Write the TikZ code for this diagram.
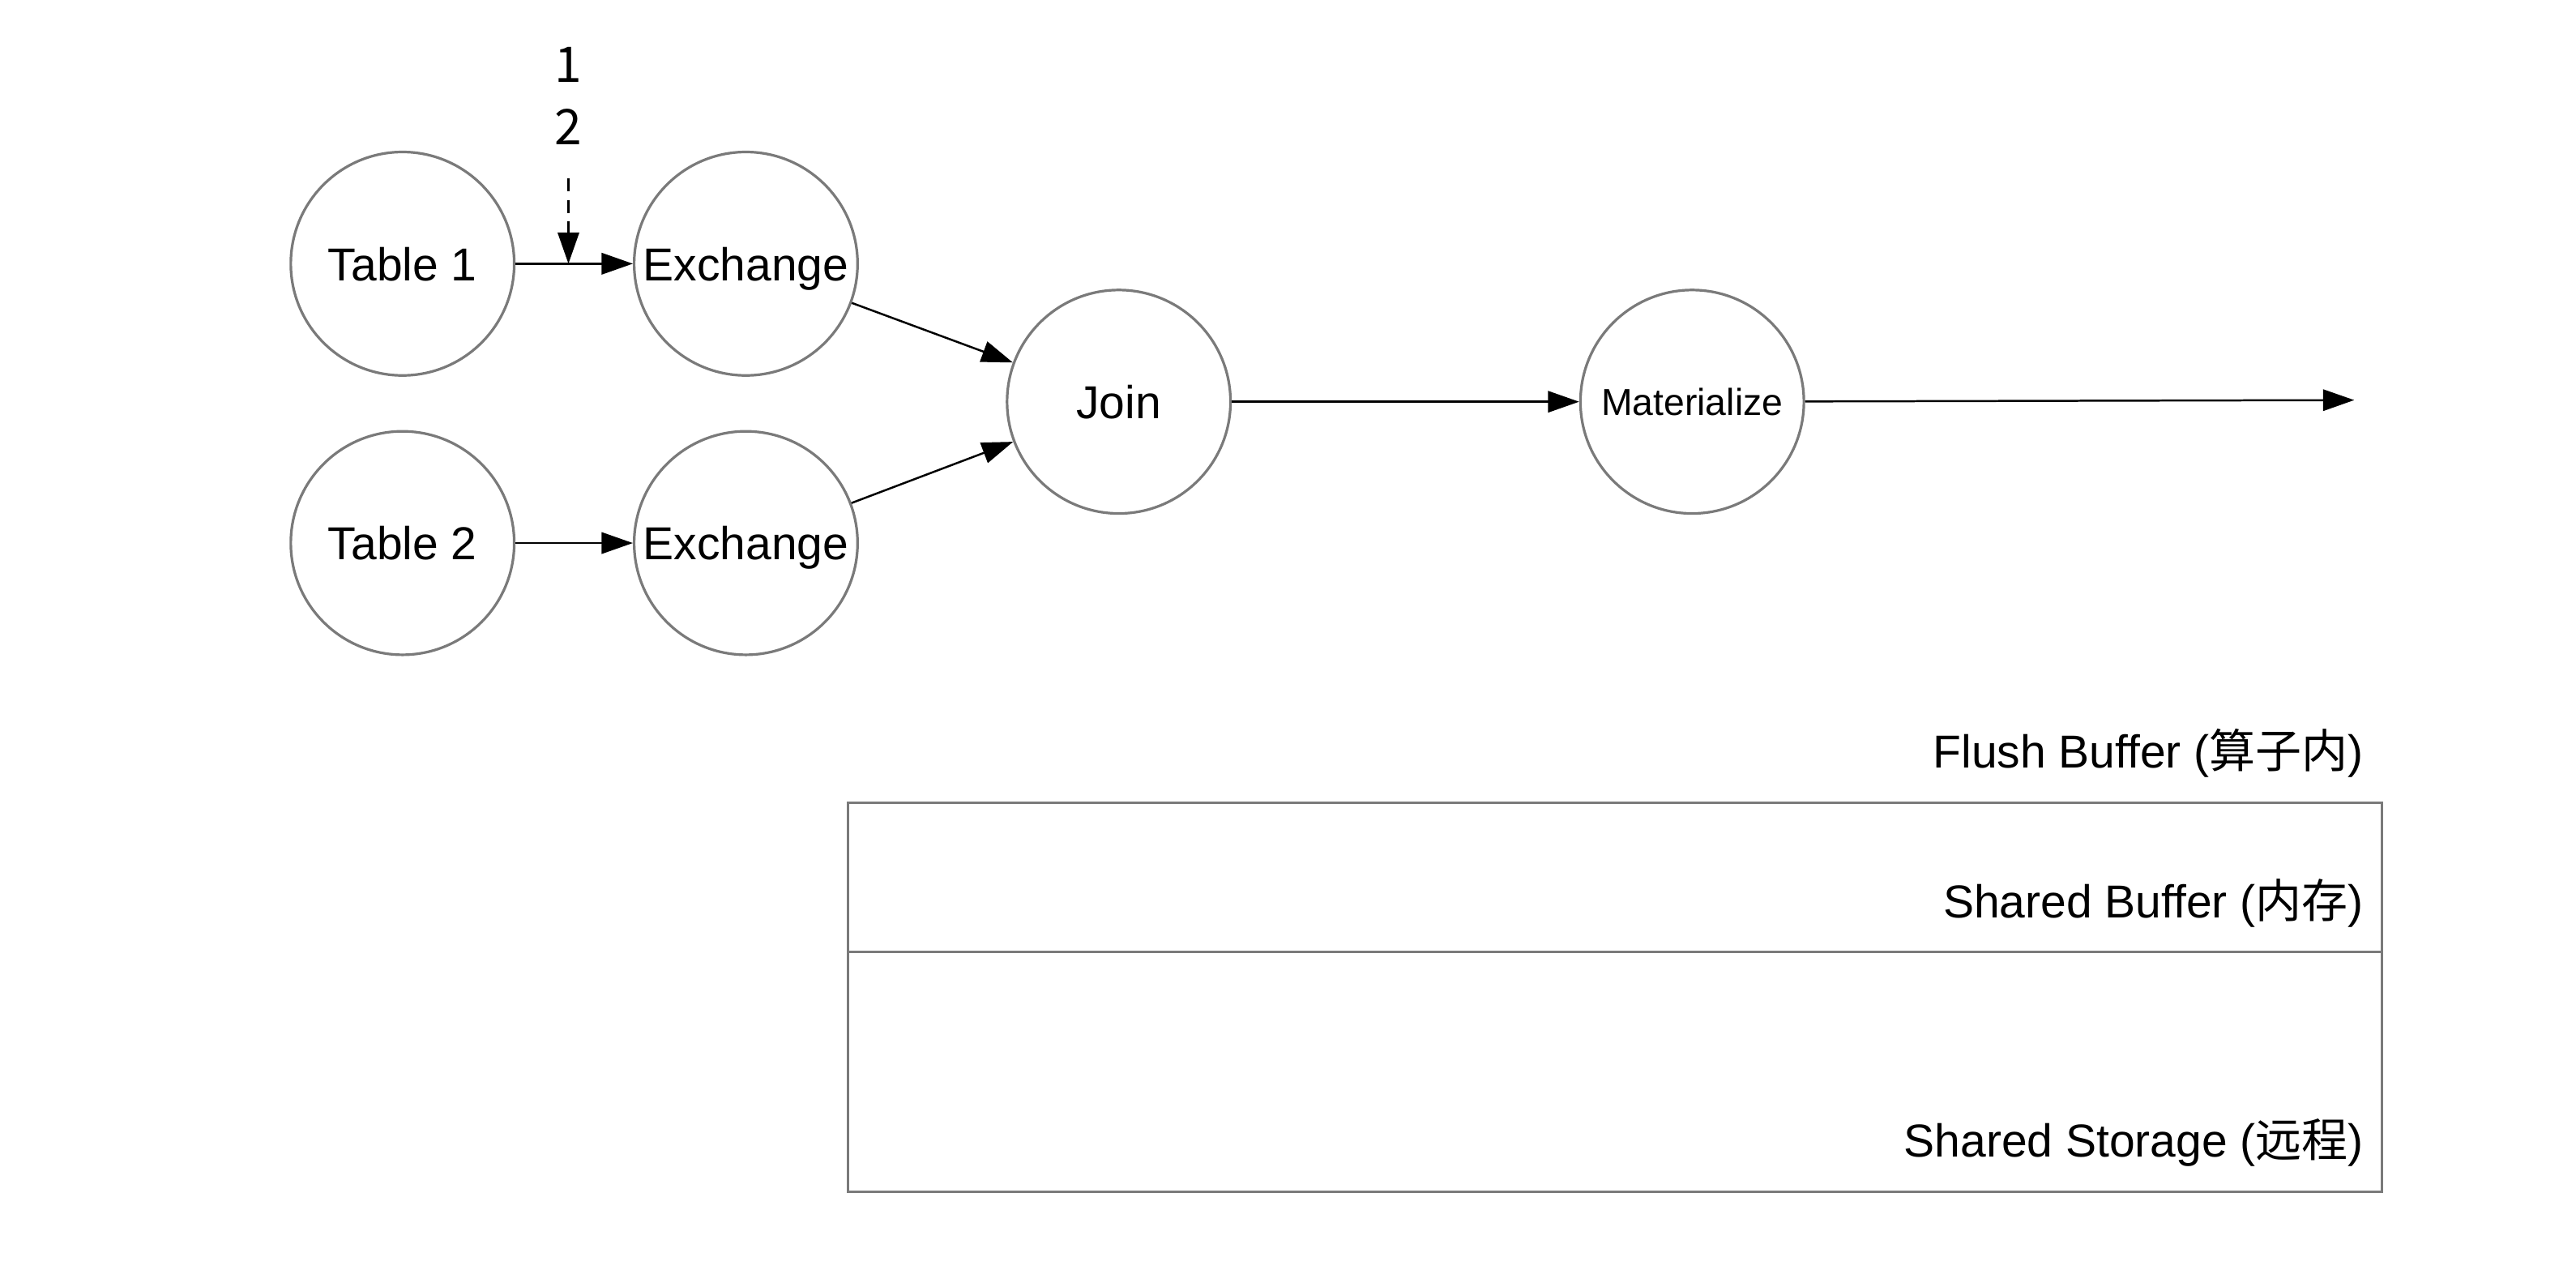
\documentclass[tikz,border=0pt]{standalone}
\usepackage{fontspec}
\setmainfont{Liberation Sans}
\newfontfamily\cjk{Noto Sans CJK SC}
\usepackage{tikz}
\usetikzlibrary{arrows.meta}

\definecolor{rim}{HTML}{7A7A7A}
\tikzset{
	op/.style={circle, draw=rim, line width=0.9pt, minimum size=2.72cm, inner sep=0pt, text depth=0pt, font=\fontsize{16}{19}\selectfont},
	arr/.style={line width=0.7pt, -{Triangle[length=0.38cm,width=0.26cm]}},
	lbl/.style={anchor=east, inner sep=0pt, font=\fontsize{16}{19}\selectfont}
}

\begin{document}
\begin{tikzpicture}
			\useasboundingbox (0,0) rectangle (31.36,15.45);

			\node[op] (t1) at (4.9,12.24) {Table 1};
			\node[op] (ex1) at (9.08,12.24) {Exchange};
			\node[op] (t2) at (4.9,8.84) {Table 2};
			\node[op] (ex2) at (9.08,8.84) {Exchange};
			\node[op] (join) at (13.62,10.56) {Join};
			\node[op, font=\fontsize{13}{15}\selectfont] (mat) at (20.6,10.56) {Materialize};
			\coordinate (out) at (28.66,10.58);

			\foreach \a/\b in {t1/ex1,t2/ex2,ex1/join,ex2/join,join/mat,mat/out}
			\draw[arr] (\a) -- (\b);

			% counter dropping onto the first input
			\node[align=center, inner sep=0pt, font=\cjk\fontsize{17}{21.5}\selectfont] (cnt) at (6.92,14.28) {1\\2};
			\coordinate (tap) at (6.92,12.24);
			\draw[arr, dash pattern=on 4.5pt off 3pt] (6.92,13.28) -- (tap);

			% buffers
			\node[lbl] (flush) at (28.78,6.28) {Flush Buffer ({\cjk 算子内})};
			\draw[rim, line width=0.9pt] (10.32,0.94) rectangle (29.0,5.68);
			\draw[rim, line width=0.9pt] (10.32,3.86) -- (29.0,3.86);
			\node[lbl] (shbuf) at (28.78,4.46) {Shared Buffer ({\cjk 内存})};
			\node[lbl] (shsto) at (28.78,1.54) {Shared Storage ({\cjk 远程})};
		\end{tikzpicture}
\end{document}
